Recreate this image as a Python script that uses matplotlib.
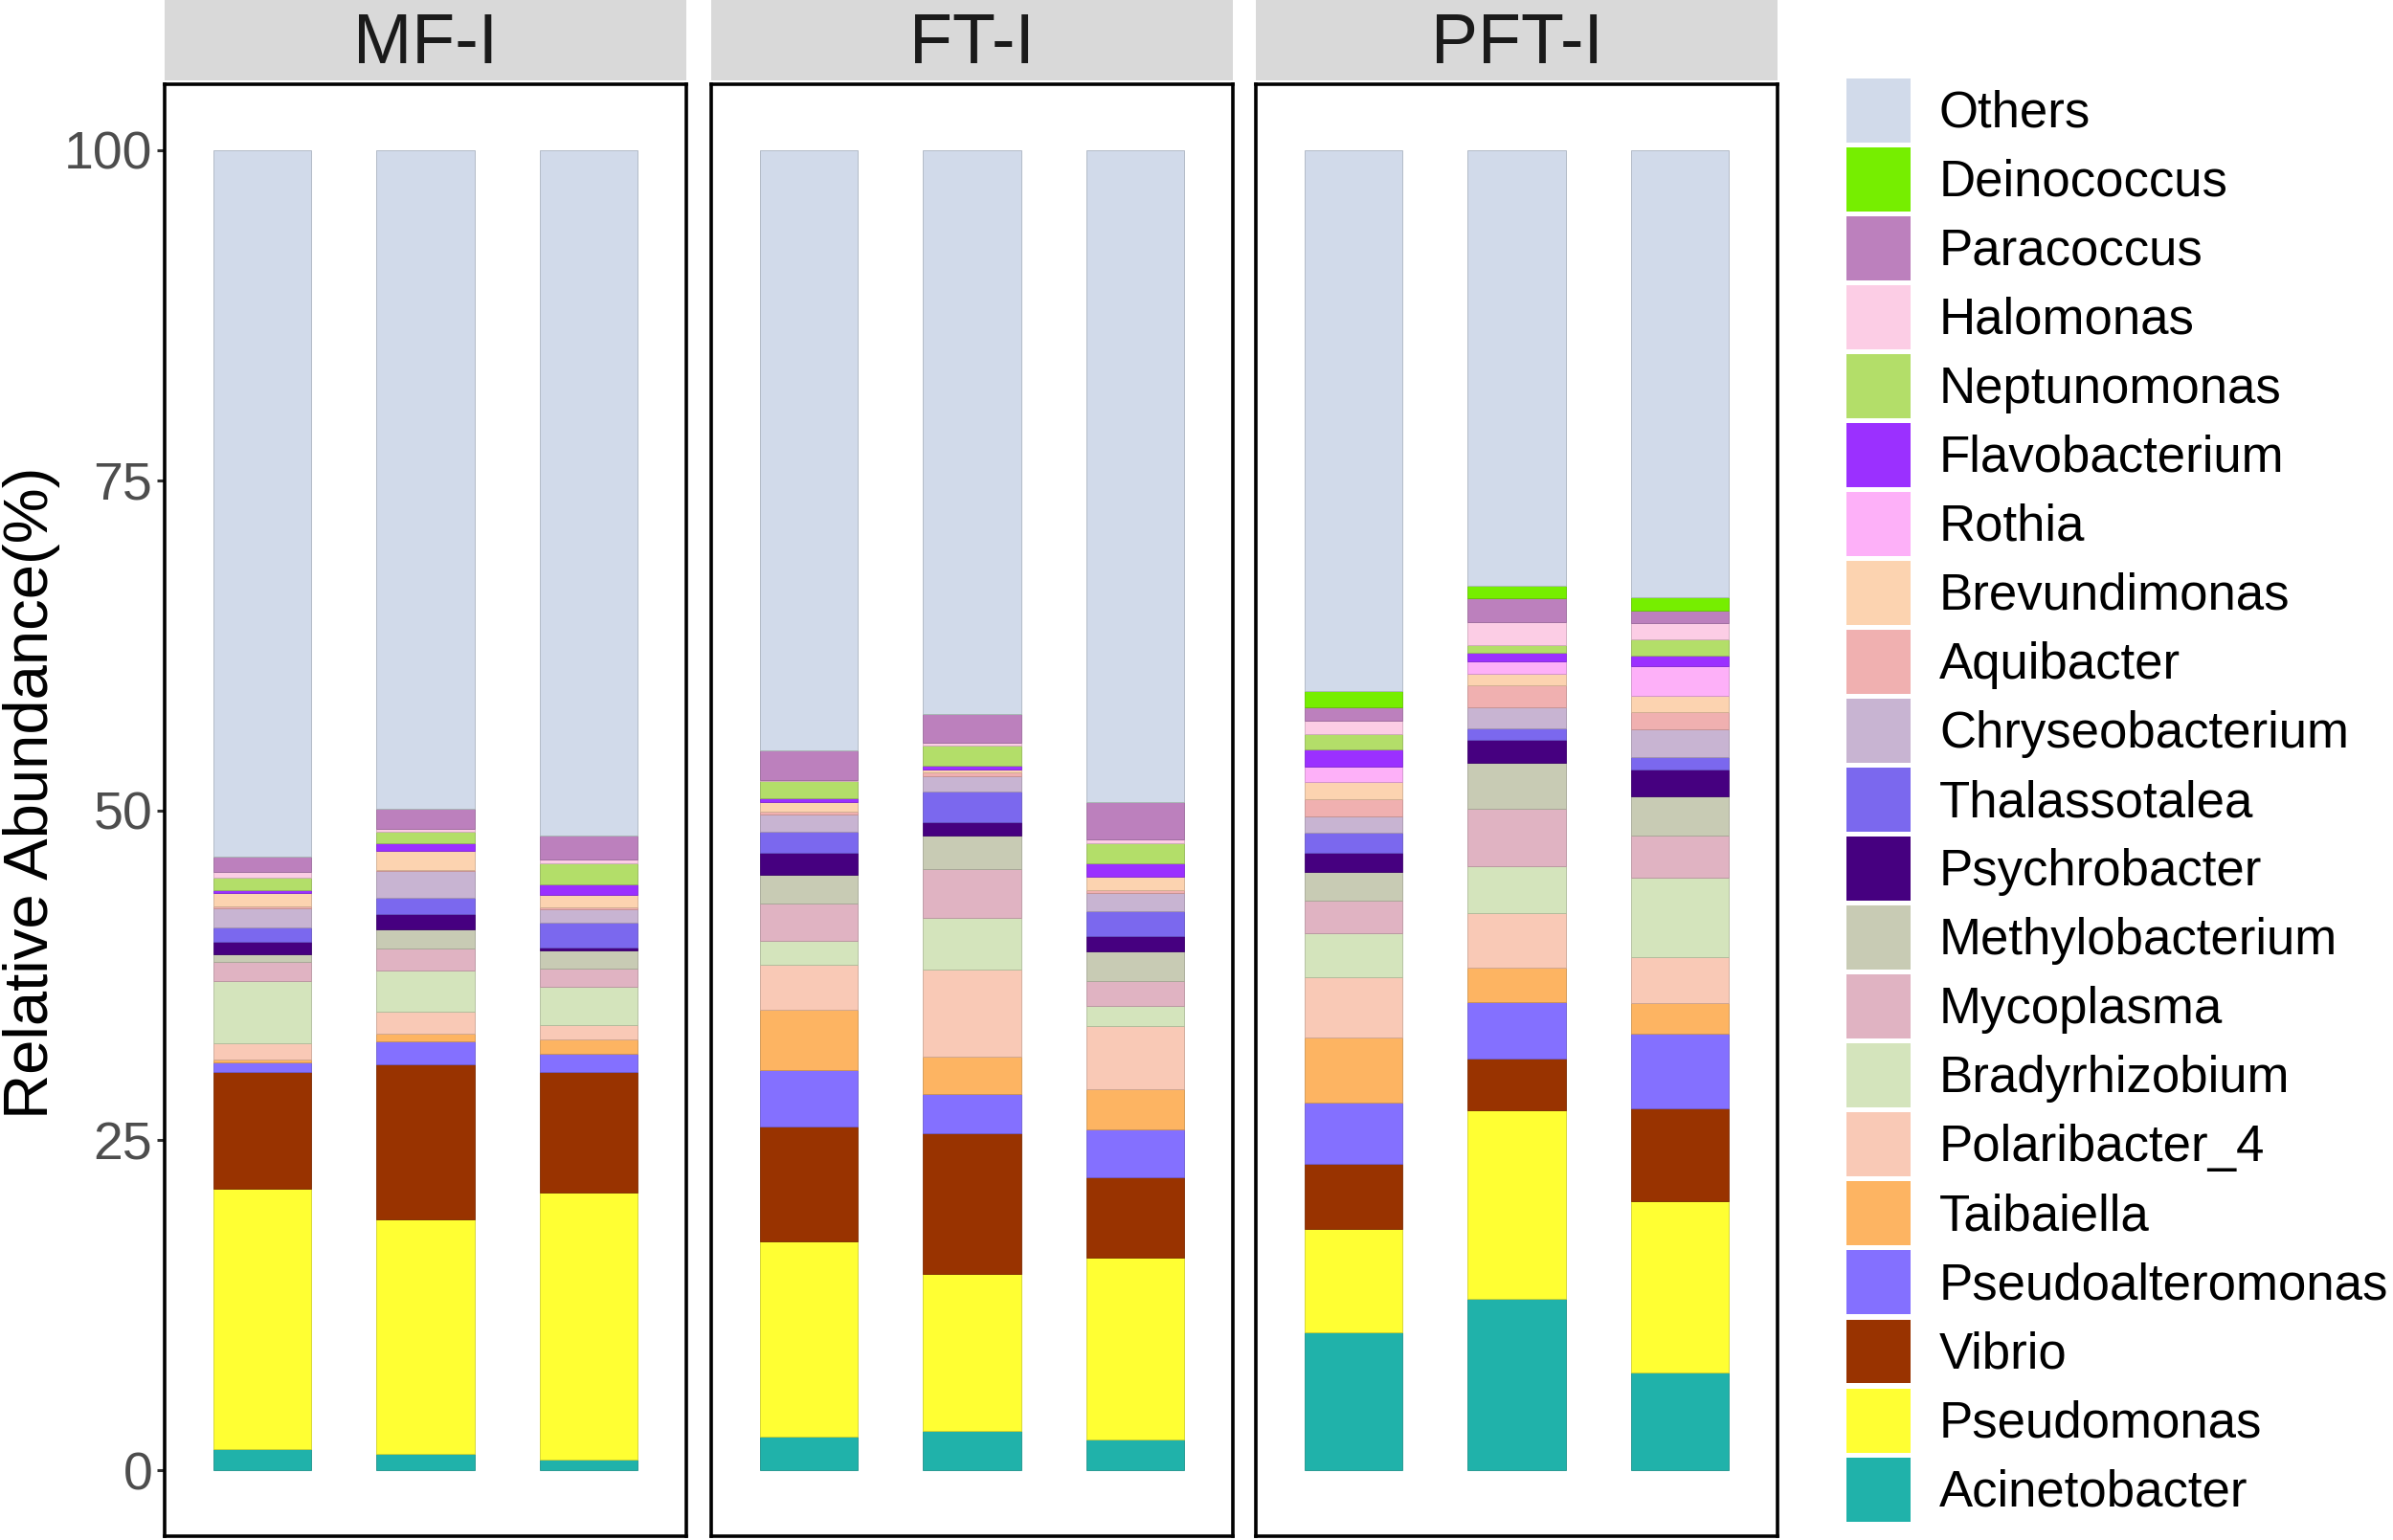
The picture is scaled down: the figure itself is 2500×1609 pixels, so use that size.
import numpy as np
import matplotlib.pyplot as plt
from matplotlib.patches import Patch
from matplotlib.colors import to_rgb

plt.rcParams['font.family'] = ['Liberation Sans', 'DejaVu Sans']

# stacking order, bottom -> top
genera = ["Acinetobacter", "Pseudomonas", "Vibrio", "Pseudoalteromonas", "Taibaiella",
          "Polaribacter_4", "Bradyrhizobium", "Mycoplasma", "Methylobacterium", "Psychrobacter",
          "Thalassotalea", "Chryseobacterium", "Aquibacter", "Brevundimonas", "Rothia",
          "Flavobacterium", "Neptunomonas", "Halomonas", "Paracoccus", "Deinococcus", "Others"]
colors = ["#20B2AA", "#FFFF33", "#993300", "#8470FF", "#FDB462",
          "#F9C9B6", "#D4E4BC", "#E0B3C2", "#C8CBB4", "#460080",
          "#7B68EE", "#C8B4D2", "#F0B0B0", "#FCD3B0", "#FDB0F8",
          "#9B30FF", "#B3DE69", "#FCCDE5", "#BC80BD", "#76EE00", "#D1DAEA"]

groups = ["MF-I", "FT-I", "PFT-I"]

# relative abundance (%) per sample, same order as genera
mf_1 = [1.6, 19.7, 8.84, 0.76, 0.2, 1.25, 4.71, 1.44, 0.6, 0.96, 1.04, 1.5, 0.1, 1.04, 0.0, 0.22, 0.94, 0.45, 1.15, 0.0, 53.5]
mf_2 = [1.26, 17.74, 11.75, 1.75, 0.55, 1.71, 3.11, 1.66, 1.41, 1.16, 1.3, 2.0, 0.1, 1.4, 0.0, 0.6, 0.9, 0.2, 1.54, 0.0, 49.86]
mf_3 = [0.77, 20.23, 9.14, 1.41, 1.05, 1.14, 2.86, 1.4, 1.36, 0.2, 1.94, 1.0, 0.16, 0.89, 0.0, 0.8, 1.61, 0.3, 1.8, 0.0, 51.94]
ft_1 = [2.54, 14.76, 8.75, 4.25, 4.6, 3.4, 1.8, 2.8, 2.2, 1.7, 1.6, 1.3, 0.2, 0.7, 0.0, 0.34, 1.26, 0.05, 2.25, 0.0, 45.5]
ft_2 = [2.98, 11.92, 10.6, 3.0, 2.8, 6.6, 3.93, 3.71, 2.52, 1.04, 2.3, 1.2, 0.25, 0.2, 0.0, 0.35, 1.5, 0.2, 2.2, 0.0, 42.7]
ft_3 = [2.3, 13.78, 6.12, 3.6, 3.06, 4.82, 1.52, 1.86, 2.27, 1.17, 1.85, 1.35, 0.26, 0.97, 0.0, 1.03, 1.54, 0.26, 2.84, 0.0, 49.4]
pft_1 = [10.46, 7.8, 4.94, 4.63, 4.96, 4.53, 3.39, 2.43, 2.17, 1.49, 1.5, 1.2, 1.34, 1.3, 1.16, 1.27, 1.16, 1.04, 1.06, 1.17, 41.0]
pft_2 = [13.0, 14.3, 3.9, 4.27, 2.59, 4.11, 3.56, 4.37, 3.46, 1.74, 0.88, 1.62, 1.65, 0.9, 0.95, 0.6, 0.6, 1.75, 1.81, 0.94, 33.0]
pft_3 = [7.43, 12.97, 7.0, 5.65, 2.33, 3.46, 6.02, 3.2, 3.01, 1.98, 1.0, 2.1, 1.3, 1.23, 2.26, 0.76, 1.25, 1.25, 0.95, 0.95, 33.9]

samples = {"MF-I": [mf_1, mf_2, mf_3],
           "FT-I": [ft_1, ft_2, ft_3],
           "PFT-I": [pft_1, pft_2, pft_3]}

W, H = 2500, 1609
fig = plt.figure(figsize=(W / 100, H / 100), dpi=100)

panel_left = [172, 743, 1312]
panel_w = 545
panel_top, panel_bot = 88, 1605
strip_top, strip_bot = 0, 84


def darker(c, f=0.82):
    r, g, b = to_rgb(c)
    return (r * f, g * f, b * f)


for gi, g in enumerate(groups):
    ax = fig.add_axes([panel_left[gi] / W, 1 - panel_bot / H, panel_w / W, (panel_bot - panel_top) / H])
    data = np.array(samples[g])
    x = np.arange(1, 4)
    bottom = np.zeros(3)
    for k in range(len(genera)):
        vals = data[:, k]
        ax.bar(x, vals, width=0.6, bottom=bottom, color=colors[k],
               edgecolor=darker(colors[k]), linewidth=0.6)
        bottom += vals
    ax.set_xlim(0.4, 3.6)
    ax.set_ylim(-5, 105)
    ax.set_xticks([])
    for sp in ax.spines.values():
        sp.set_linewidth(2.6)
        sp.set_color("black")
    if gi == 0:
        ax.set_yticks([0, 25, 50, 75, 100])
        ax.tick_params(axis="y", labelsize=40, labelcolor="#4D4D4D", color="#333333",
                       length=6, width=2.2, pad=3)
        ax.set_ylabel("Relative Abundance(%)", fontsize=47)
        ax.yaxis.set_label_coords(-0.2, 0.512)
    else:
        ax.set_yticks([])

    sax = fig.add_axes([panel_left[gi] / W, 1 - strip_bot / H, panel_w / W, (strip_bot - strip_top) / H])
    sax.set_facecolor("#D9D9D9")
    sax.set_xticks([])
    sax.set_yticks([])
    for sp in sax.spines.values():
        sp.set_visible(False)
    sax.text(0.5, 0.45, g, ha="center", va="center", fontsize=53, color="#1A1A1A",
             transform=sax.transAxes)

handles = [Patch(facecolor=colors[k], edgecolor="none", label=genera[k])
           for k in range(len(genera) - 1, -1, -1)]
fs = 38
fs_px = fs * 100 / 72
fig.legend(handles=handles, loc="upper left", bbox_to_anchor=(1929 / W, 1 - 82 / H),
           frameon=False, fontsize=fs, borderpad=0, borderaxespad=0,
           handlelength=67 / fs_px, handleheight=1.575,
           handletextpad=30 / fs_px, labelspacing=0.096)

fig.savefig("out.png", dpi=100)
